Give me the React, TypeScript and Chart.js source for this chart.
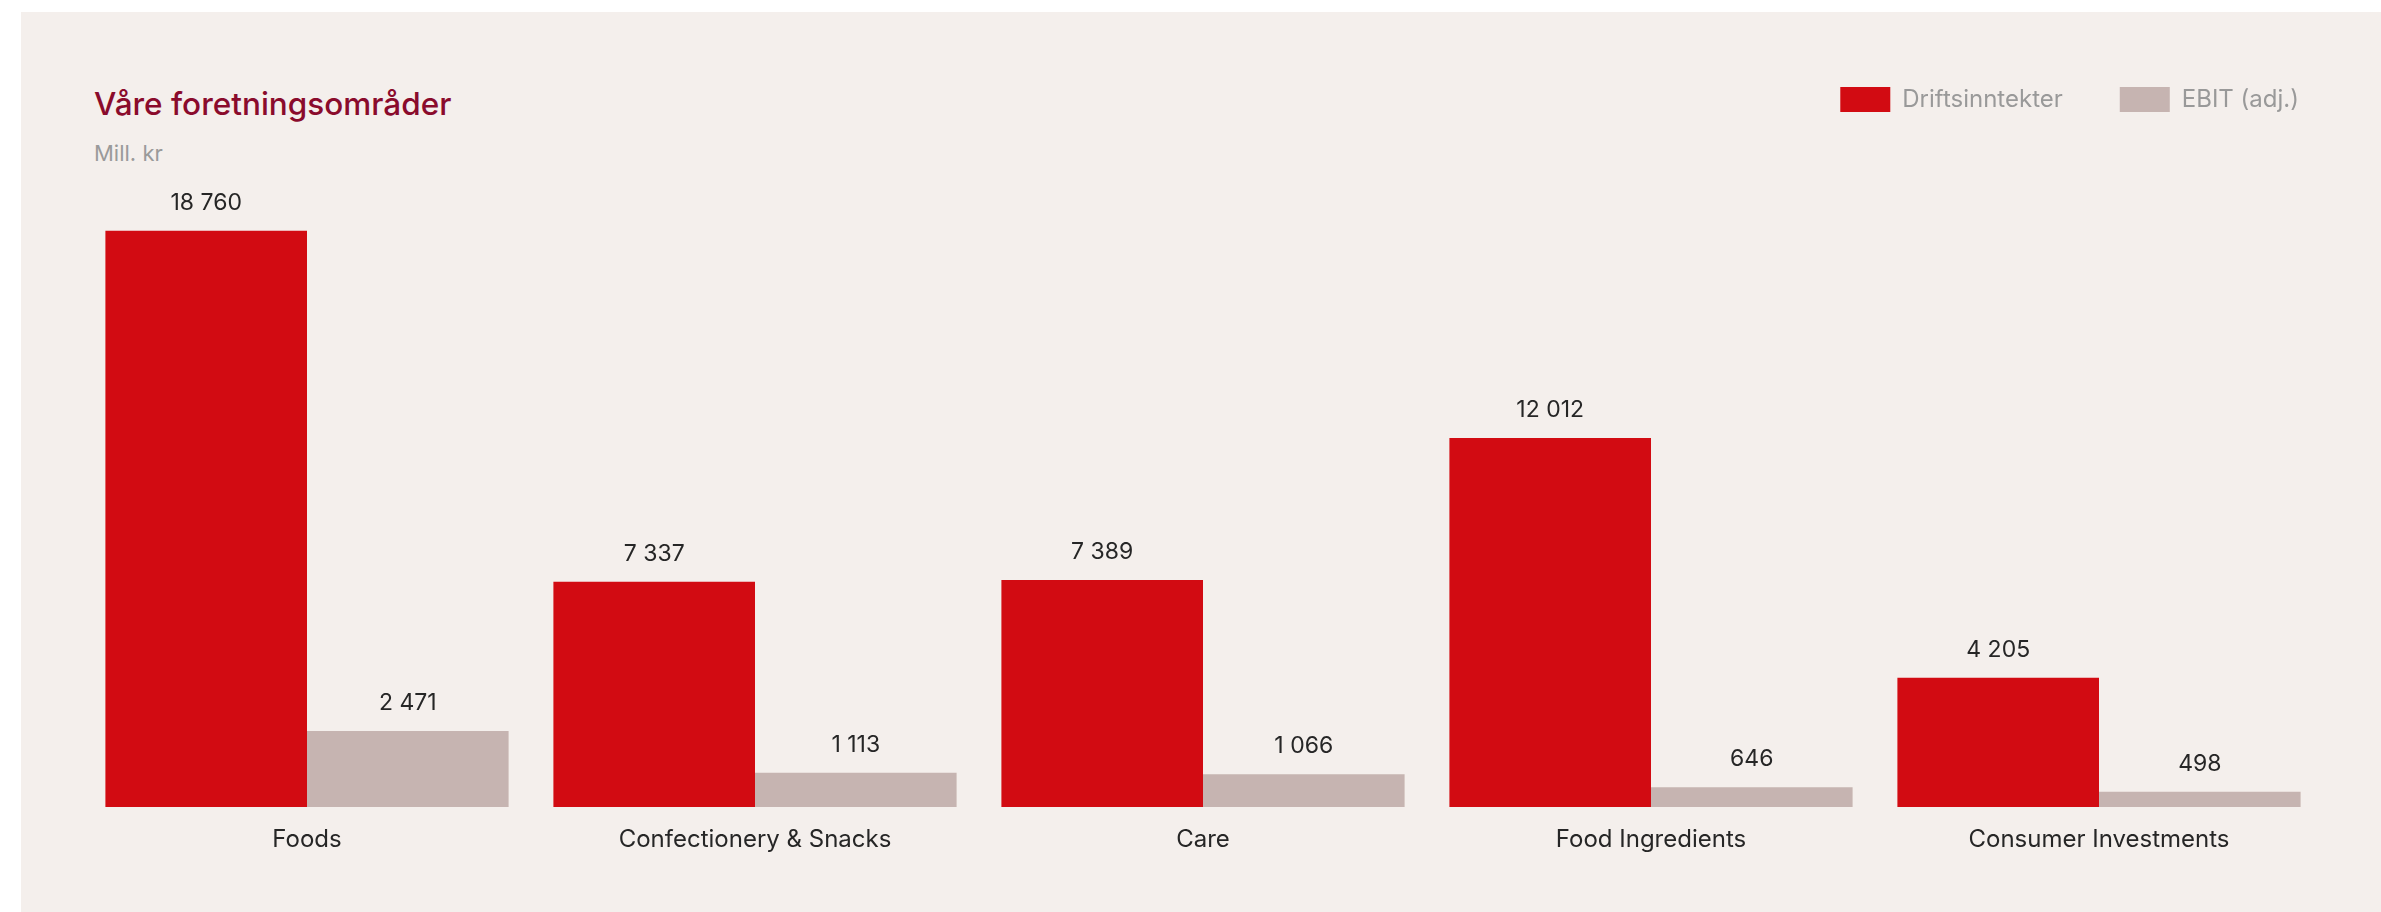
import { useEffect, useRef } from 'react';
import { Chart, registerables } from 'chart.js';

Chart.register(...registerables);

const categories = ['Foods', 'Confectionery & Snacks', 'Care', 'Food Ingredients', 'Consumer Investments'];
const driftsinntekter = [18760, 7337, 7389, 12012, 4205];
const ebitAdj = [2471, 1113, 1066, 646, 498];
const seriesNames = ['Driftsinntekter', 'EBIT (adj.)'];
const chartTitle = 'Våre foretningsområder';
const unitLabel = 'Mill. kr';
const yMax = 22300;

const RED = '#d20b12';
const GREY = '#c6b4b1';
const BG = '#f4efec';
const FONT = 'Inter';

const fmt = (v: number) => String(v).replace(/\B(?=(\d{3})+(?!\d))/g, ' ');

const valueLabels = {
  id: 'valueLabels',
  afterDatasetsDraw(chart: any) {
    const ctx = chart.ctx;
    ctx.save();
    ctx.font = `400 23px ${FONT}`;
    ctx.fillStyle = '#262626';
    ctx.textAlign = 'center';
    ctx.textBaseline = 'alphabetic';
    chart.data.datasets.forEach((ds: any, i: number) => {
      const meta = chart.getDatasetMeta(i);
      meta.data.forEach((bar: any, j: number) => {
        ctx.fillText(fmt(ds.data[j]), bar.x, bar.y - 21);
      });
    });
    ctx.restore();
  },
};

export default function App() {
  const canvasRef = useRef<HTMLCanvasElement | null>(null);

  useEffect(() => {
    if (!canvasRef.current) return;
    const chart = new Chart(canvasRef.current, {
      type: 'bar',
      data: {
        labels: categories,
        datasets: [
          {
            label: seriesNames[0],
            data: driftsinntekter,
            backgroundColor: RED,
            borderWidth: 0,
            categoryPercentage: 0.9,
            barPercentage: 1.0,
          },
          {
            label: seriesNames[1],
            data: ebitAdj,
            backgroundColor: GREY,
            borderWidth: 0,
            categoryPercentage: 0.9,
            barPercentage: 1.0,
          },
        ],
      },
      options: {
        responsive: false,
        animation: false,
        layout: { padding: { left: 83, right: 25, top: 30, bottom: 0 } },
        plugins: {
          legend: {
            position: 'top',
            align: 'end',
            labels: {
              boxWidth: 50,
              boxHeight: 25,
              padding: 57,
              color: '#999999',
              font: { family: FONT, size: 24, weight: '400' },
            },
          },
          tooltip: { enabled: false },
        },
        scales: {
          x: {
            grid: { display: false },
            border: { display: false },
            ticks: {
              color: '#262626',
              padding: 10,
              font: { family: FONT, size: 24, weight: '400' },
              maxRotation: 0,
              autoSkip: false,
            },
            afterFit: (s: any) => {
              s.height = 105;
            },
          },
          y: {
            position: 'right',
            min: 0,
            max: yMax,
            grid: { display: false },
            border: { display: false },
            ticks: { display: false },
            afterFit: (s: any) => {
              s.width = 33;
            },
          },
        },
      },
      plugins: [valueLabels],
    } as any);
    return () => chart.destroy();
  }, []);

  return (
    <div
      style={{
        position: 'fixed',
        left: 0,
        top: 0,
        width: 2381,
        height: 912,
        background: '#ffffff',
        overflow: 'hidden',
      }}
    >
      <div style={{ position: 'absolute', left: 21, top: 12, right: 0, bottom: 0, background: BG }} />
      <div
        style={{
          position: 'absolute',
          left: 94,
          top: 88,
          fontFamily: FONT,
          fontWeight: 500,
          fontSize: 31.5,
          lineHeight: '31.5px',
          color: '#8a0b2c',
          whiteSpace: 'nowrap',
        }}
      >
        {chartTitle}
      </div>
      <div
        style={{
          position: 'absolute',
          left: 94,
          top: 142,
          fontFamily: FONT,
          fontWeight: 400,
          fontSize: 22,
          lineHeight: '22px',
          color: '#9a9a9a',
          whiteSpace: 'nowrap',
        }}
      >
        {unitLabel}
      </div>
      <canvas
        ref={canvasRef}
        width={2381}
        height={912}
        style={{ position: 'absolute', left: 0, top: 0, width: 2381, height: 912 }}
      />
    </div>
  );
}
